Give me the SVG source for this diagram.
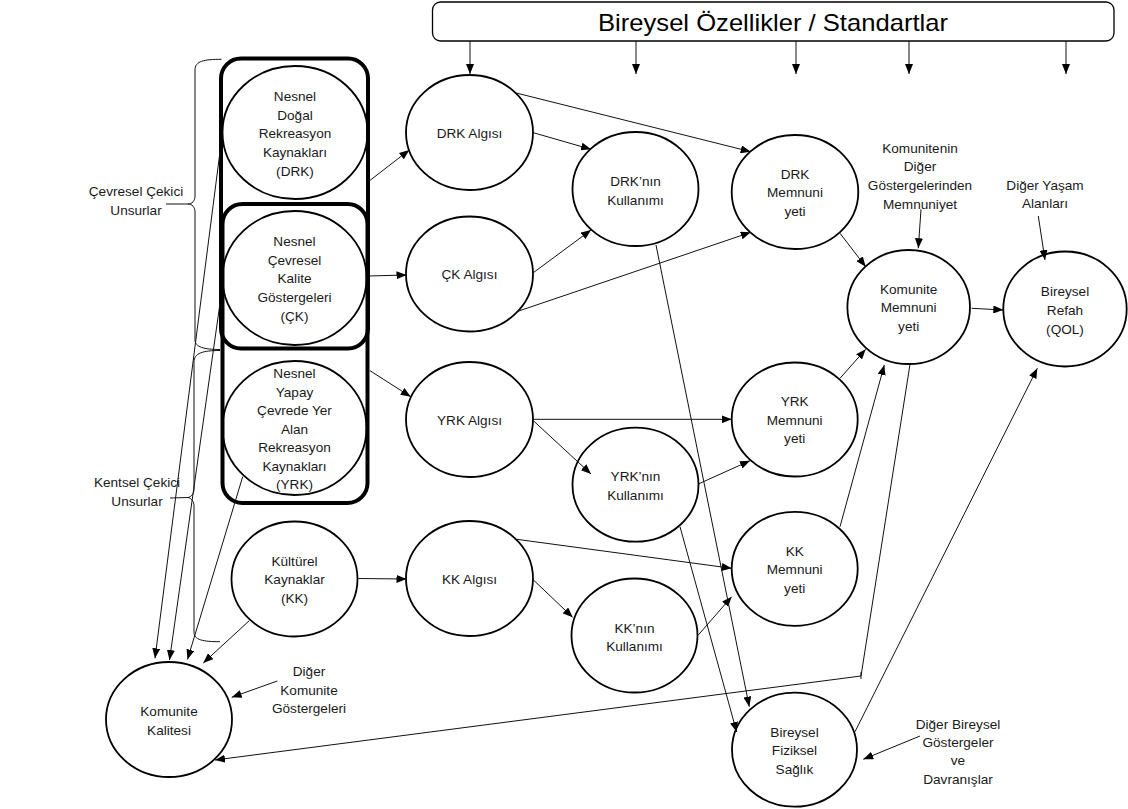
<svg xmlns="http://www.w3.org/2000/svg" width="1128" height="809" viewBox="0 0 1128 809">
<defs>
<marker id="ah" viewBox="0 0 10 8" refX="10" refY="4" markerWidth="10" markerHeight="8" markerUnits="userSpaceOnUse" orient="auto"><path d="M0,0 L10,4 L0,8 z" fill="#000"/></marker>
<style>
.n{fill:#fff;stroke:#000;stroke-width:1.8}
.t{font-family:"Liberation Sans",Arial,sans-serif;font-size:13.6px;fill:#1a1a1a;text-anchor:middle}
.c{fill:none;stroke:#111;stroke-width:1}
.a{fill:none;stroke:#111;stroke-width:1;marker-end:url(#ah)}
.box{fill:none;stroke:#000;stroke-width:4}
</style>
</defs>
<rect width="1128" height="809" fill="#fff"/>

<g id="header">
<rect x="432.5" y="2" width="681.5" height="39" rx="8" fill="#fff" stroke="#000" stroke-width="1.3"/>
<text x="773" y="31" font-family="Liberation Sans, Arial, sans-serif" font-size="24" text-anchor="middle" textLength="350" lengthAdjust="spacingAndGlyphs" fill="#000">Bireysel Özellikler / Standartlar</text>
</g>

<g id="node-drk">
<ellipse class="n" cx="295" cy="132.5" rx="72.5" ry="66.5"/>
<text class="t" x="295" y="101.2">Nesnel</text>
<text class="t" x="295" y="119.8">Doğal</text>
<text class="t" x="295" y="138.4">Rekreasyon</text>
<text class="t" x="295" y="157">Kaynakları</text>
<text class="t" x="295" y="175.6">(DRK)</text>
</g>
<g id="node-ck">
<ellipse class="n" cx="294.5" cy="278" rx="72" ry="67"/>
<text class="t" x="294.5" y="245.5">Nesnel</text>
<text class="t" x="294.5" y="264.5">Çevresel</text>
<text class="t" x="294.5" y="283">Kalite</text>
<text class="t" x="294.5" y="302">Göstergeleri</text>
<text class="t" x="294.5" y="320.5">(ÇK)</text>
</g>
<g id="node-yrk">
<ellipse class="n" cx="294.5" cy="428" rx="72" ry="67"/>
<text class="t" x="294.5" y="378">Nesnel</text>
<text class="t" x="294.5" y="396.5">Yapay</text>
<text class="t" x="294.5" y="415">Çevrede Yer</text>
<text class="t" x="294.5" y="433.5">Alan</text>
<text class="t" x="294.5" y="452">Rekreasyon</text>
<text class="t" x="294.5" y="470.5">Kaynakları</text>
<text class="t" x="294.5" y="489">(YRK)</text>
</g>
<g id="group-cevresel">
<rect class="box" x="221" y="58.5" width="147" height="290" rx="20"/>
</g>
<g id="group-kentsel">
<rect class="box" x="222.5" y="204" width="145" height="299" rx="20"/>
</g>
<g id="node-kk">
<ellipse class="n" cx="294.5" cy="579" rx="63" ry="57.5"/>
<text class="t" x="294.5" y="565.5">Kültürel</text>
<text class="t" x="294.5" y="584">Kaynaklar</text>
<text class="t" x="294.5" y="602.5">(KK)</text>
</g>

<g id="label-cevresel">
<path class="c" d="M221.5,59.3 C204,59.3 195,61 195,70 L195,196 C195,201 192,204 188,204 C192,204 195,207 195,212 L195,340 C195,347 204,349.5 220,349.5"/>
<line class="c" x1="166" y1="204" x2="188" y2="204"/>
<text class="t" x="136" y="196">Çevresel Çekici</text>
<text class="t" x="136" y="214.5">Unsurlar</text>
</g>
<g id="label-kentsel">
<path class="c" d="M220,350.5 C203,350.5 194,353 194,362 L194,489 C194,494 191,497 188,497.5 C191,498 194,501 194,506 L194,632 C194,640 203,641.7 220,641.7"/>
<line class="c" x1="170" y1="498" x2="188" y2="497.5"/>
<text class="t" x="137" y="487">Kentsel Çekici</text>
<text class="t" x="137" y="505.5">Unsurlar</text>
</g>

<g id="node-drk-algisi">
<ellipse class="n" cx="469.5" cy="132.5" rx="63.5" ry="57.5"/>
<text class="t" x="469.5" y="138">DRK Algısı</text>
</g>
<g id="node-ck-algisi">
<ellipse class="n" cx="469.5" cy="274" rx="63.5" ry="57.5"/>
<text class="t" x="469.5" y="278.5">ÇK Algısı</text>
</g>
<g id="node-yrk-algisi">
<ellipse class="n" cx="469.5" cy="419.5" rx="63.5" ry="57.5"/>
<text class="t" x="469.5" y="424.5">YRK Algısı</text>
</g>
<g id="node-kk-algisi">
<ellipse class="n" cx="469.5" cy="578.5" rx="63.5" ry="57.5"/>
<text class="t" x="469.5" y="584">KK Algısı</text>
</g>

<g id="node-drk-kullanim">
<ellipse class="n" cx="635.5" cy="189" rx="63" ry="57"/>
<text class="t" x="635.5" y="186">DRK’nın</text>
<text class="t" x="635.5" y="204.5">Kullanımı</text>
</g>
<g id="node-yrk-kullanim">
<ellipse class="n" cx="635.5" cy="484.7" rx="63" ry="57"/>
<text class="t" x="635.5" y="481">YRK’nın</text>
<text class="t" x="635.5" y="499.5">Kullanımı</text>
</g>
<g id="node-kk-kullanim">
<ellipse class="n" cx="634.5" cy="635.5" rx="63" ry="57"/>
<text class="t" x="634.5" y="633">KK’nın</text>
<text class="t" x="634.5" y="650.5">Kullanımı</text>
</g>

<g id="node-drk-memnuniyet">
<ellipse class="n" cx="795" cy="192" rx="63.3" ry="57"/>
<text class="t" x="795" y="179">DRK</text>
<text class="t" x="795" y="197">Memnuni</text>
<text class="t" x="795" y="215.5">yeti</text>
</g>
<g id="node-yrk-memnuniyet">
<ellipse class="n" cx="794.7" cy="419.5" rx="63" ry="57"/>
<text class="t" x="794.7" y="406">YRK</text>
<text class="t" x="794.7" y="424.5">Memnuni</text>
<text class="t" x="794.7" y="443">yeti</text>
</g>
<g id="node-kk-memnuniyet">
<ellipse class="n" cx="794.7" cy="568.8" rx="63" ry="57"/>
<text class="t" x="794.7" y="555.5">KK</text>
<text class="t" x="794.7" y="574">Memnuni</text>
<text class="t" x="794.7" y="592.5">yeti</text>
</g>
<g id="node-saglik">
<ellipse class="n" cx="794.5" cy="749.7" rx="62.5" ry="57"/>
<text class="t" x="794.5" y="737">Bireysel</text>
<text class="t" x="794.5" y="755">Fiziksel</text>
<text class="t" x="794.5" y="774">Sağlık</text>
</g>

<g id="node-komunite-memnuniyet">
<ellipse class="n" cx="908.7" cy="307" rx="61.3" ry="57"/>
<text class="t" x="908.7" y="294">Komunite</text>
<text class="t" x="908.7" y="312">Memnuni</text>
<text class="t" x="908.7" y="330.5">yeti</text>
</g>
<g id="node-refah">
<ellipse class="n" cx="1065" cy="309" rx="61.7" ry="57.5"/>
<text class="t" x="1065" y="296">Bireysel</text>
<text class="t" x="1065" y="314.5">Refah</text>
<text class="t" x="1065" y="333.5">(QOL)</text>
</g>
<g id="node-komunite-kalitesi">
<ellipse class="n" cx="169" cy="719.5" rx="63" ry="57.5"/>
<text class="t" x="169" y="716">Komunite</text>
<text class="t" x="169" y="735">Kalitesi</text>
</g>

<g id="label-diger-komunite">
<text class="t" x="309" y="675.5">Diğer</text>
<text class="t" x="309" y="694.5">Komunite</text>
<text class="t" x="309" y="713">Göstergeleri</text>
</g>
<g id="label-komunitenin">
<text class="t" x="920" y="153">Komunitenin</text>
<text class="t" x="920" y="171">Diğer</text>
<text class="t" x="920" y="190">Göstergelerinden</text>
<text class="t" x="920" y="208.5">Memnuniyet</text>
</g>
<g id="label-diger-yasam">
<text class="t" x="1045" y="189.5">Diğer Yaşam</text>
<text class="t" x="1045" y="208">Alanları</text>
</g>
<g id="label-diger-bireysel">
<text class="t" x="958" y="728.5">Diğer Bireysel</text>
<text class="t" x="958" y="747">Göstergeler</text>
<text class="t" x="958" y="765">ve</text>
<text class="t" x="958" y="783.5">Davranışlar</text>
</g>

<g id="connectors">
<line class="a" x1="470" y1="41" x2="470" y2="74"/>
<line class="a" x1="636" y1="41" x2="636" y2="74"/>
<line class="a" x1="796" y1="41" x2="796" y2="74"/>
<line class="a" x1="909" y1="41" x2="909" y2="74"/>
<line class="a" x1="1066" y1="41" x2="1066" y2="74"/>

<line class="a" x1="368.3" y1="181.7" x2="409.3" y2="150"/>
<line class="a" x1="368.3" y1="276" x2="406.5" y2="275"/>
<line class="a" x1="370" y1="370.7" x2="410.7" y2="396.7"/>
<line class="a" x1="358.3" y1="578.5" x2="406.5" y2="579"/>

<line class="a" x1="533.3" y1="132.7" x2="591" y2="149.3"/>
<line class="a" x1="515" y1="92.7" x2="750.7" y2="151.7"/>
<line class="a" x1="533.3" y1="272.7" x2="591" y2="230"/>
<line class="a" x1="516.7" y1="311.7" x2="750.7" y2="232.3"/>

<line class="a" x1="533.3" y1="419.3" x2="731.7" y2="419.3"/>
<line class="a" x1="533.3" y1="420.7" x2="591" y2="474"/>
<line class="a" x1="698.3" y1="484" x2="750" y2="460.7"/>

<line class="a" x1="516.7" y1="539.3" x2="731.7" y2="568.3"/>
<line class="a" x1="532.7" y1="579.3" x2="572.7" y2="617.3"/>
<line class="a" x1="698.3" y1="635" x2="731.7" y2="596.7"/>

<line class="a" x1="656" y1="245" x2="749.3" y2="706.7"/>
<line class="a" x1="680" y1="526.7" x2="736.7" y2="732"/>

<line class="a" x1="840" y1="233.3" x2="865.7" y2="266.7"/>
<line class="a" x1="840" y1="378.3" x2="865.7" y2="349.3"/>
<line class="a" x1="840" y1="526.7" x2="884.3" y2="365"/>
<line class="a" x1="971.7" y1="308.3" x2="1003.3" y2="310"/>
<line class="a" x1="921" y1="209.3" x2="918.3" y2="248.3"/>
<line class="a" x1="1038.3" y1="216" x2="1045" y2="260"/>

<polyline class="c" points="910,364.3 861,676"/>
<line class="c" x1="861" y1="672" x2="861" y2="679"/>
<line class="a" x1="861" y1="676" x2="215" y2="760"/>
<line class="a" x1="855" y1="731.7" x2="1037.3" y2="368.3"/>
<line class="a" x1="920" y1="736" x2="863.3" y2="759.3"/>
<line class="a" x1="277.3" y1="681" x2="231.7" y2="697.3"/>

<line class="a" x1="220" y1="151.7" x2="155" y2="658.3"/>
<line class="a" x1="220" y1="303.3" x2="169.5" y2="660"/>
<line class="a" x1="242.7" y1="476.7" x2="187.5" y2="659.5"/>
<line class="a" x1="249.3" y1="620.7" x2="203.3" y2="663"/>
</g>
</svg>
